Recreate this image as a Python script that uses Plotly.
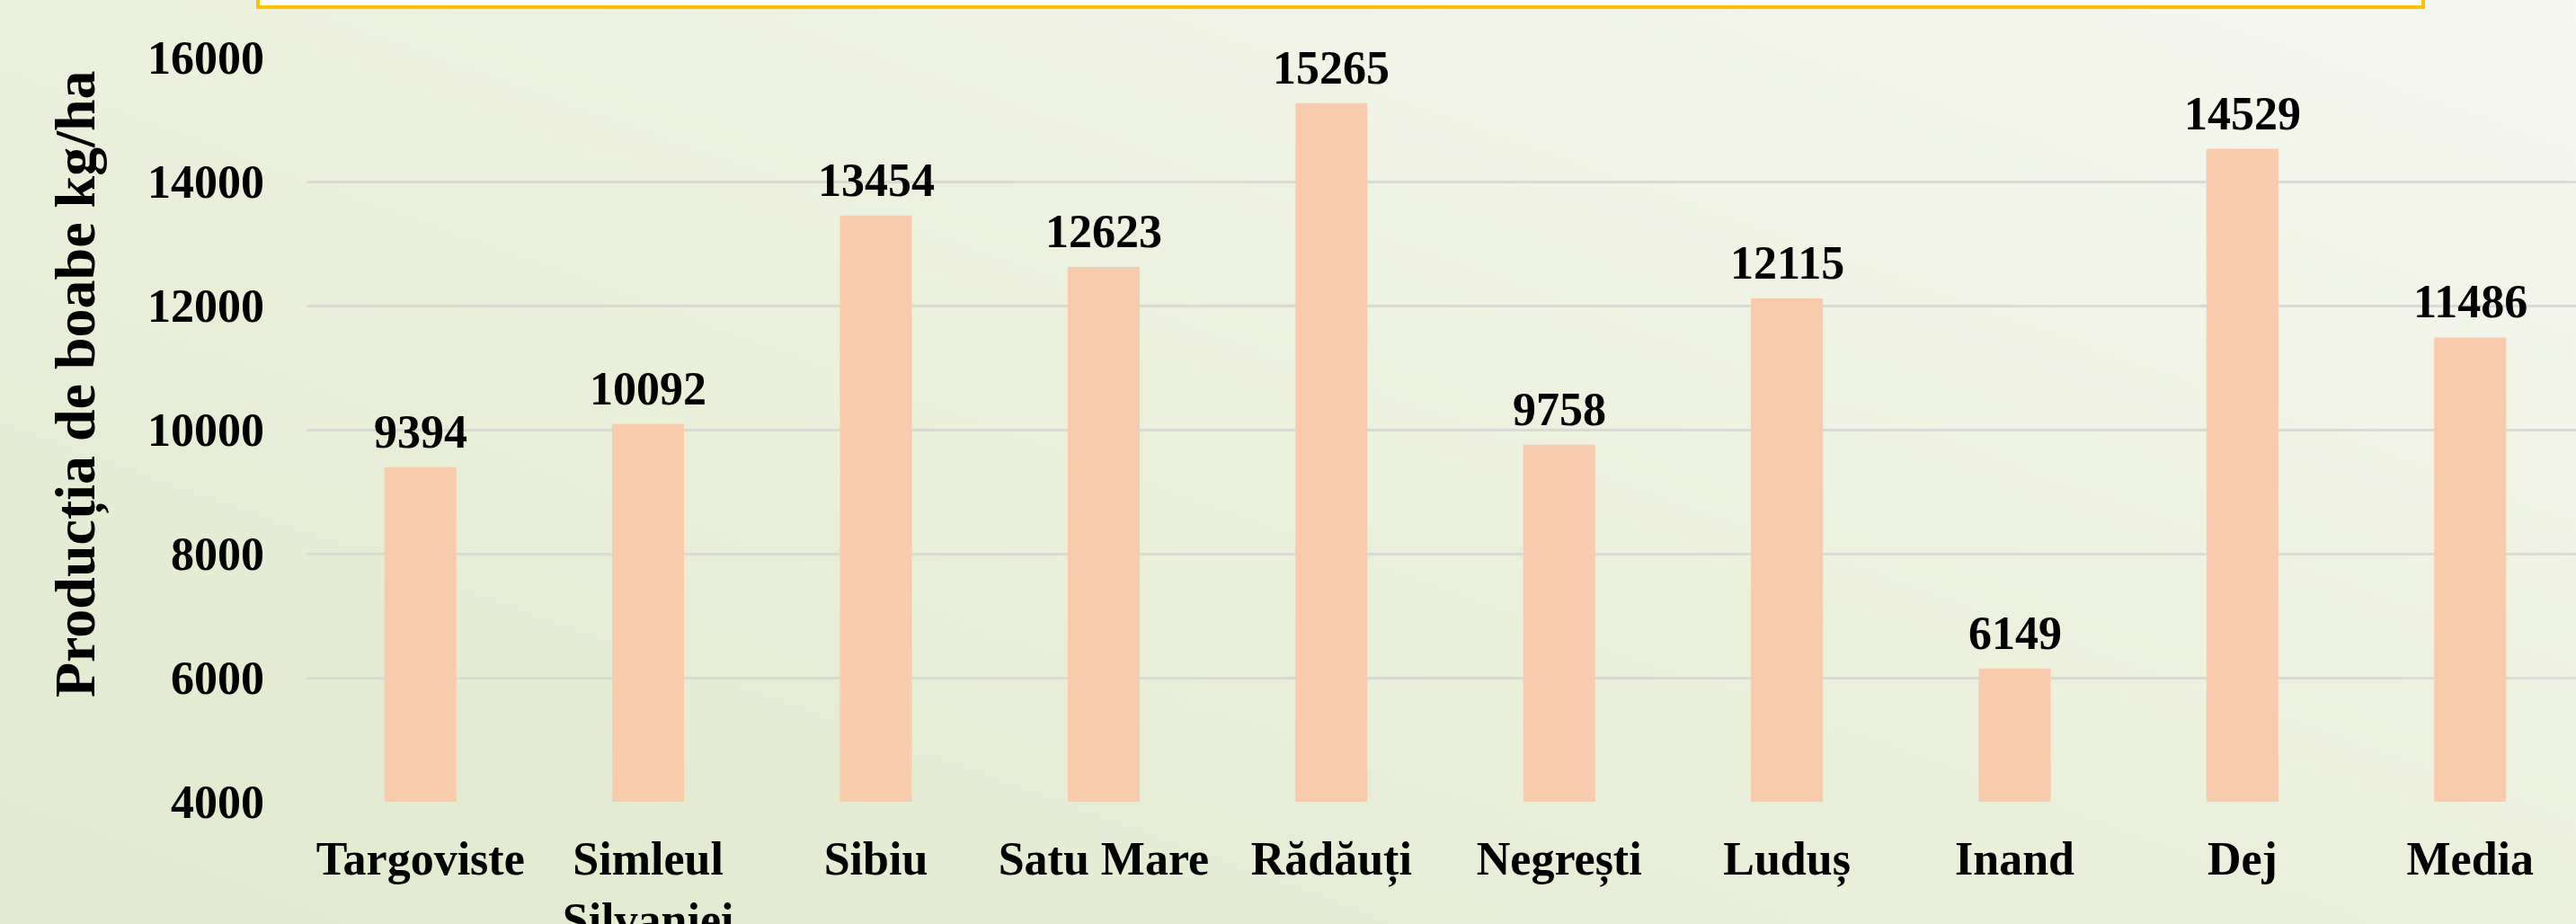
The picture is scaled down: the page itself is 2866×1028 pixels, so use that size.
import base64
import plotly.graph_objects as go

categories = ["Targoviste", "Simleul<br>Silvaniei", "Sibiu", "Satu Mare", "Rădăuți",
              "Negrești", "Luduș", "Inand", "Dej", "Media"]
values = [9394, 10092, 13454, 12623, 15265, 9758, 12115, 6149, 14529, 11486]
y_ticks = [4000, 6000, 8000, 10000, 12000, 14000, 16000]
y_title = "Producția de boabe kg/ha"

W, H = 2866, 1028
L, R, T, B = 341, 0, 64, 136
PW, PH = W - L - R, H - T - B

FONT = "Liberation Serif"

svg = (
    f'<svg xmlns="http://www.w3.org/2000/svg" width="{W}" height="{H}" viewBox="0 0 {W} {H}" preserveAspectRatio="none">'
    '<defs><linearGradient id="g" x1="0" y1="1" x2="1" y2="0">'
    '<stop offset="0" stop-color="#E0E9CD"/>'
    '<stop offset="0.5" stop-color="#EBF0DC"/>'
    '<stop offset="1" stop-color="#F6F7F0"/>'
    '</linearGradient></defs>'
    f'<rect x="0" y="0" width="{W}" height="{H}" fill="url(#g)"/></svg>'
)
bg_src = "data:image/svg+xml;base64," + base64.b64encode(svg.encode()).decode()

fig = go.Figure()
fig.add_trace(go.Bar(
    x=categories, y=values, width=0.316,
    marker=dict(color="#F8CBAD", line=dict(width=0)),
    hoverinfo="x+y", showlegend=False,
))

annotations = []
for c, v in zip(categories, values):
    annotations.append(dict(
        x=c, y=v, xref="x", yref="y", text=str(v), showarrow=False,
        yanchor="bottom", xanchor="center", yshift=9,
        font=dict(family=FONT, size=52, color="black", weight="bold"),
    ))
annotations.append(dict(
    x=(85 - L) / PW, y=(H - B - 427) / PH, xref="paper", yref="paper",
    text=y_title, textangle=-90, showarrow=False,
    xanchor="center", yanchor="middle",
    font=dict(family=FONT, size=64, color="black", weight="bold"),
))

fig.update_layout(
    width=W, height=H,
    margin=dict(l=L, r=R, t=T, b=B, pad=0, autoexpand=False),
    paper_bgcolor="#EBF0DC",
    plot_bgcolor="rgba(0,0,0,0)",
    bargap=0.68,
    annotations=annotations,
    images=[dict(
        source=bg_src, xref="paper", yref="paper",
        x=-L / PW, y=1 + T / PH, sizex=W / PW, sizey=H / PH,
        xanchor="left", yanchor="top", sizing="stretch", layer="below",
    )],
    shapes=[dict(
        type="rect", xref="paper", yref="paper",
        x0=(287 - L) / PW, x1=(2696 - L) / PW,
        y0=(H - B - 8) / PH, y1=1.3,
        fillcolor="white", line=dict(color="#FFC000", width=4), layer="above",
    )],
    xaxis=dict(
        type="category", range=[-0.5, -0.5 + PW / 253.4], automargin=False,
        showgrid=False, zeroline=False, showline=False, ticks="",
        tickfont=dict(family=FONT, size=52, color="black", weight="bold"),
        ticklabelstandoff=28, tickangle=0,
    ),
    yaxis=dict(
        range=[4000, 16000], tickvals=y_ticks, ticktext=[str(t) for t in y_ticks],
        automargin=False,
        showgrid=True, gridcolor="#D9D9D9", gridwidth=2.5,
        zeroline=False, showline=False, ticks="",
        tickfont=dict(family=FONT, size=52, color="black", weight="bold"),
        ticklabelstandoff=46,
    ),
)

fig.write_html(
    "out.html",
    config={"displayModeBar": False},
    post_script="document.body.style.margin='0';document.body.style.overflow='hidden';",
)
